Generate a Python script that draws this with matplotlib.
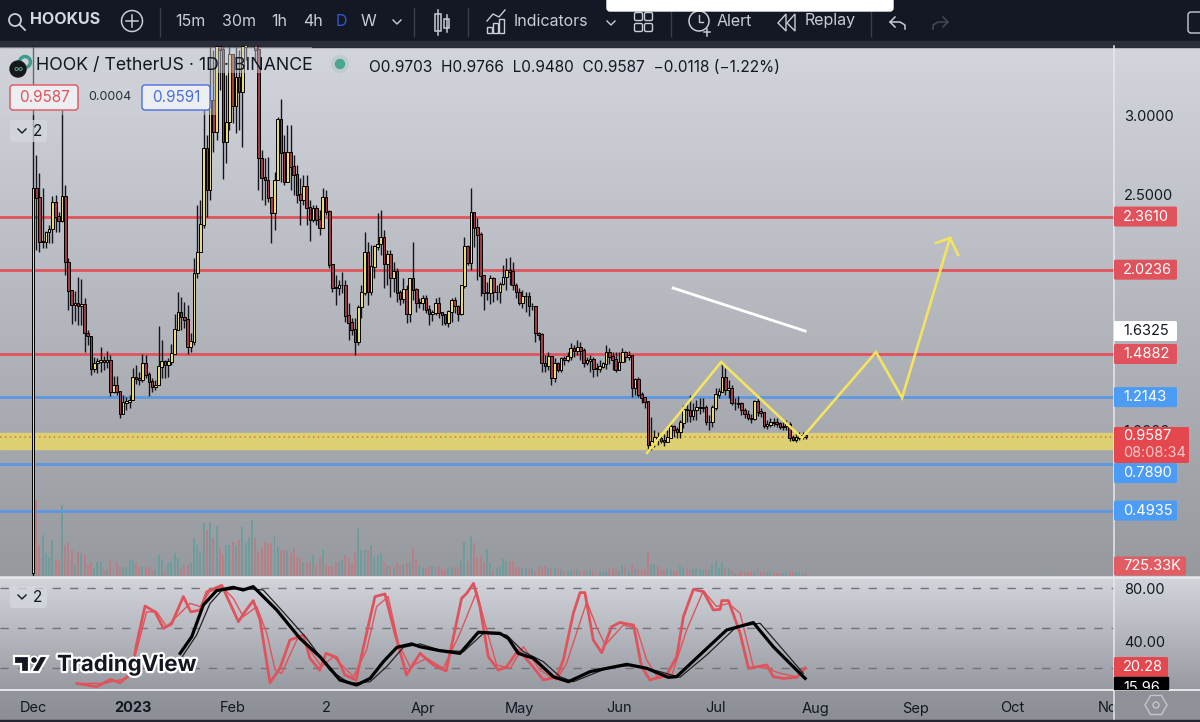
import numpy as np
import matplotlib
matplotlib.use('Agg')
import matplotlib.pyplot as plt
import matplotlib.patheffects as pe
from matplotlib.patches import Rectangle, Circle, Polygon, FancyBboxPatch, RegularPolygon

plt.rcParams['font.family'] = ['Inter', 'DejaVu Sans']

W, H = 1200, 722

# daily candles, price in USDT, first one is Dec 1
first_open = 0.10
closes = [
    2.54, 2.48, 2.20, 2.20, 2.26, 2.28, 2.45, 2.36, 2.33, 2.49,
    2.07, 1.89, 1.80, 1.81, 1.79, 1.80, 1.62, 1.60, 1.39, 1.43,
    1.44, 1.445, 1.44, 1.445, 1.25, 1.29, 1.25, 1.11, 1.18, 1.185,
    1.195, 1.335, 1.33, 1.325, 1.425, 1.355, 1.31, 1.28, 1.29, 1.405,
    1.44, 1.42, 1.44, 1.49, 1.64, 1.75, 1.72, 1.705, 1.53, 1.565,
    2.00, 2.135, 2.31, 2.795, 2.53, 3.10, 2.90, 3.44, 3.42, 2.835,
    2.96, 3.39, 3.06, 3.24, 3.15, 3.44, 3.55, 3.58, 3.58, 3.42,
    2.73, 2.605, 2.59, 2.48, 2.385, 2.59, 2.975, 2.765, 2.58, 2.77,
    2.675, 2.625, 2.50, 2.465, 2.55, 2.415, 2.34, 2.41, 2.34, 2.29,
    2.48, 2.39, 2.055, 1.91, 1.905, 1.925, 1.925, 1.73, 1.685, 1.64,
    1.565, 1.785, 1.875, 2.13, 1.88, 2.04, 2.17, 2.185, 2.23, 2.06,
    2.12, 1.97, 2.01, 1.875, 1.84, 1.895, 1.74, 1.965, 1.895, 1.81,
    1.815, 1.84, 1.77, 1.74, 1.75, 1.81, 1.75, 1.735, 1.685, 1.755,
    1.83, 1.79, 1.74, 1.92, 2.17, 2.065, 2.385, 2.29, 2.245, 1.985,
    1.875, 1.875, 1.965, 1.88, 1.88, 1.93, 1.975, 2.02, 2.01, 1.925,
    1.88, 1.81, 1.855, 1.855, 1.79, 1.79, 1.62, 1.61, 1.43, 1.41,
    1.47, 1.335, 1.425, 1.385, 1.46, 1.45, 1.47, 1.525, 1.505, 1.53,
    1.51, 1.43, 1.445, 1.455, 1.395, 1.39, 1.405, 1.425, 1.495, 1.47,
    1.45, 1.385, 1.435, 1.495, 1.47, 1.475, 1.27, 1.325, 1.23, 1.21,
    1.185, 0.91, 0.93, 0.96, 0.95, 0.935, 0.93, 0.955, 1.025, 1.005,
    0.995, 1.05, 1.135, 1.13, 1.095, 1.13, 1.145, 1.145, 1.145, 1.055,
    1.055, 1.145, 1.23, 1.25, 1.34, 1.26, 1.27, 1.175, 1.175, 1.17,
    1.13, 1.105, 1.08, 1.075, 1.185, 1.12, 1.115, 1.03, 1.04, 1.055,
    1.05, 1.045, 1.025, 1.03, 1.04, 0.955, 0.945, 0.955, 0.965, 0.9703,
    0.9587]
highs = [
    3.60, 2.75, 2.64, 2.54, 2.27, 2.31, 2.49, 2.50, 2.39, 3.04,
    2.56, 2.10, 1.88, 1.89, 1.98, 1.965, 1.845, 1.64, 1.60, 1.47,
    1.465, 1.53, 1.475, 1.51, 1.48, 1.35, 1.35, 1.24, 1.23, 1.215,
    1.23, 1.40, 1.42, 1.375, 1.49, 1.48, 1.375, 1.335, 1.32, 1.665,
    1.575, 1.45, 1.465, 1.55, 1.74, 1.88, 1.85, 1.82, 1.80, 1.62,
    2.10, 2.435, 2.465, 3.04, 2.88, 3.44, 3.42, 3.48, 3.51, 3.495,
    3.26, 3.51, 3.355, 3.51, 3.42, 3.55, 3.61, 3.64, 3.64, 3.64,
    3.45, 2.785, 2.73, 2.74, 2.48, 2.645, 2.99, 3.11, 2.88, 2.94,
    2.94, 2.75, 2.69, 2.605, 2.625, 2.625, 2.466, 2.435, 2.435, 2.40,
    2.54, 2.53, 2.40, 2.055, 1.99, 1.96, 2.01, 1.96, 1.81, 1.715,
    1.715, 1.80, 1.925, 2.26, 2.20, 2.18, 2.18, 2.385, 2.40, 2.275,
    2.15, 2.15, 2.07, 2.035, 1.895, 1.97, 1.925, 1.97, 2.20, 1.905,
    1.845, 1.865, 1.865, 1.80, 1.77, 1.845, 1.85, 1.755, 1.735, 1.77,
    1.845, 1.85, 1.80, 1.925, 2.23, 2.18, 2.54, 2.39, 2.35, 2.26,
    1.99, 1.945, 1.99, 1.975, 1.925, 1.945, 2.055, 2.10, 2.105, 2.07,
    1.94, 1.905, 1.895, 1.88, 1.88, 1.81, 1.79, 1.625, 1.62, 1.48,
    1.50, 1.475, 1.465, 1.44, 1.47, 1.475, 1.50, 1.56, 1.545, 1.575,
    1.565, 1.525, 1.47, 1.48, 1.47, 1.43, 1.45, 1.435, 1.545, 1.525,
    1.50, 1.50, 1.50, 1.525, 1.51, 1.51, 1.475, 1.335, 1.34, 1.25,
    1.195, 1.175, 1.09, 1.005, 0.995, 0.975, 0.98, 1.005, 1.055, 1.035,
    1.025, 1.07, 1.165, 1.185, 1.23, 1.175, 1.195, 1.21, 1.21, 1.165,
    1.10, 1.165, 1.27, 1.27, 1.43, 1.40, 1.32, 1.29, 1.21, 1.22,
    1.185, 1.145, 1.13, 1.11, 1.195, 1.21, 1.145, 1.12, 1.07, 1.08,
    1.08, 1.08, 1.055, 1.055, 1.07, 1.055, 0.975, 0.995, 0.995, 0.99,
    0.9766]
lows = [
    0.07, 2.15, 2.135, 2.16, 2.16, 2.19, 2.19, 2.26, 2.26, 2.325,
    1.99, 1.77, 1.68, 1.70, 1.67, 1.67, 1.50, 1.545, 1.355, 1.375,
    1.37, 1.375, 1.385, 1.40, 1.22, 1.24, 1.225, 1.08, 1.105, 1.13,
    1.145, 1.195, 1.30, 1.29, 1.31, 1.335, 1.22, 1.245, 1.26, 1.29,
    1.335, 1.335, 1.34, 1.42, 1.50, 1.64, 1.64, 1.655, 1.49, 1.50,
    1.545, 1.97, 2.135, 2.29, 2.36, 2.465, 2.77, 2.85, 3.165, 2.60,
    2.70, 2.91, 2.955, 2.89, 2.91, 2.80, 3.355, 3.51, 3.495, 3.355,
    2.53, 2.465, 2.435, 2.455, 2.19, 2.275, 2.605, 2.58, 2.56, 2.655,
    2.53, 2.50, 2.45, 2.31, 2.435, 2.31, 2.205, 2.325, 2.31, 2.245,
    2.29, 2.37, 2.035, 1.88, 1.80, 1.865, 1.875, 1.69, 1.575, 1.61,
    1.48, 1.545, 1.715, 1.865, 1.80, 1.865, 1.97, 2.15, 2.115, 1.905,
    1.925, 1.85, 1.88, 1.82, 1.80, 1.81, 1.685, 1.69, 1.83, 1.755,
    1.78, 1.77, 1.75, 1.67, 1.70, 1.735, 1.715, 1.67, 1.67, 1.66,
    1.69, 1.75, 1.70, 1.735, 1.905, 2.055, 2.02, 2.17, 1.96, 1.855,
    1.77, 1.83, 1.805, 1.82, 1.83, 1.81, 1.925, 1.895, 1.925, 1.895,
    1.845, 1.80, 1.78, 1.755, 1.73, 1.77, 1.565, 1.577, 1.375, 1.375,
    1.385, 1.29, 1.31, 1.375, 1.375, 1.42, 1.436, 1.45, 1.47, 1.48,
    1.45, 1.405, 1.42, 1.375, 1.34, 1.35, 1.375, 1.40, 1.395, 1.425,
    1.385, 1.375, 1.385, 1.436, 1.436, 1.45, 1.215, 1.23, 1.215, 1.175,
    1.145, 0.865, 0.88, 0.90, 0.91, 0.925, 0.905, 0.93, 0.96, 0.96,
    0.955, 0.955, 1.02, 1.055, 1.055, 1.07, 1.07, 1.11, 1.12, 1.035,
    1.005, 1.025, 1.135, 1.21, 1.25, 1.23, 1.21, 1.165, 1.13, 1.145,
    1.10, 1.08, 1.07, 1.05, 1.07, 1.095, 1.09, 1.02, 1.01, 1.025,
    1.03, 1.025, 1.01, 1.005, 1.005, 0.935, 0.935, 0.93, 0.94, 0.948,
    0.948]
# volume, millions
volumes = [
    2.0, 15.2, 6.2, 8.2, 4.6, 3.8, 7.2, 3.2, 3.0, 14.2,
    6.2, 6.8, 5.2, 2.2, 4.8, 4.6, 4.2, 2.2, 2.8, 1.6,
    2.8, 2.8, 1.2, 1.2, 3.2, 1.2, 2.8, 1.8, 1.8, 1.6,
    3.2, 3.2, 2.6, 1.8, 1.8, 1.6, 1.8, 1.4, 1.2, 4.2,
    3.2, 1.2, 2.6, 2.8, 4.6, 3.6, 1.6, 2.2, 2.2, 2.6,
    7.6, 6.2, 4.8, 10.6, 9.2, 10.8, 7.6, 10.0, 5.6, 4.2,
    6.2, 6.2, 6.8, 6.2, 7.2, 9.8, 6.6, 7.8, 11.2, 7.6,
    4.8, 5.6, 6.8, 6.6, 6.6, 8.0, 5.8, 5.2, 5.2, 5.0,
    4.6, 5.6, 3.8, 3.6, 2.8, 2.6, 2.6, 4.2, 2.2, 3.8,
    5.2, 2.2, 2.0, 2.0, 2.8, 2.8, 3.2, 4.2, 3.6, 2.6,
    4.8, 9.6, 5.2, 5.2, 5.2, 6.2, 3.8, 4.2, 4.6, 2.8,
    2.2, 2.0, 1.8, 2.6, 2.2, 2.4, 2.6, 2.8, 5.8, 3.2,
    2.0, 1.6, 1.6, 1.8, 2.0, 2.0, 2.0, 1.4, 1.2, 1.6,
    1.6, 1.8, 1.8, 3.2, 6.8, 3.0, 8.0, 6.6, 3.6, 4.0,
    2.8, 5.4, 2.6, 1.2, 1.6, 1.8, 3.4, 3.0, 3.0, 3.0,
    1.8, 1.8, 1.6, 1.6, 1.4, 1.6, 1.0, 2.0, 1.4, 2.0,
    1.6, 1.4, 1.6, 1.4, 1.2, 1.0, 1.0, 1.0, 1.2, 1.4,
    1.0, 1.0, 0.8, 1.2, 1.0, 0.8, 0.8, 0.8, 1.0, 1.4,
    1.6, 1.4, 1.0, 2.2, 1.8, 1.0, 2.4, 1.4, 1.4, 1.2,
    1.4, 4.8, 2.4, 2.2, 2.0, 1.2, 1.4, 1.6, 1.4, 1.0,
    1.2, 2.0, 1.6, 1.4, 1.2, 1.4, 1.6, 1.4, 1.2, 1.4,
    1.2, 2.4, 3.0, 1.6, 2.8, 1.6, 1.6, 1.0, 0.6, 0.6,
    1.0, 0.8, 0.8, 1.0, 0.6, 1.6, 0.8, 1.0, 0.8, 0.8,
    0.6, 0.6, 0.6, 0.6, 0.8, 1.2, 0.8, 0.6, 0.8, 0.4,
    0.72]

level_red = [2.3610, 2.0236, 1.4882]
level_blue = [1.2143, 0.7890, 0.4935]
zone_top, zone_bottom = 0.986, 0.885
last_price = 0.9587

# hand drawn lines on the chart
draw_days = [190.7, 213.7, 238.8, 261.8, 269.9, 284.8]
draw_prices = [0.86, 1.437, 0.955, 1.50, 1.21, 2.225]
arrow_days = [280.4, 284.8, 287.3]
arrow_prices = [2.193, 2.225, 2.117]
white_days = [198.8, 239.8]
white_prices = [1.907, 1.634]

# stoch rsi knots
rk_d = [13.6, 19.8, 24, 27, 30.6, 32.2, 34.8, 37.9, 40.5, 43, 46.7, 49, 51.9, 54, 58.6, 61.2, 63.8, 65.8, 68.4, 70.5,
        73.6, 76.7, 79.8, 84, 86, 89, 91, 94.3, 96.9, 100.3, 103.6, 106.2, 109.3, 112.4, 116, 120.2, 124.3, 128.3,
        130.6, 133.1, 134.7, 136.8, 138.8, 141.4, 144.5, 147.1, 150.7, 154.4, 158.5, 162.6, 164.7, 167.8, 169.9,
        171.4, 174, 176.6, 179.7, 182.3, 186.5, 189, 191.6, 196.8, 199.9, 202, 205.1, 208.2, 211.3, 213.4, 213.9,
        216, 219.6, 222.2, 227.9, 229.9, 233, 237.2, 239.8]
rk_v = [8, 5.5, 11, 8.6, 15.6, 38, 66.4, 62, 49.6, 52.8, 73.5, 62, 63.4, 77.2, 82, 68.4, 54.6, 62, 70.5, 55.9,
        8.6, 19.4, 40.8, 44.5, 27, 18, 30.7, 27.7, 14.4, 10.6, 45.8, 73.5, 75.5, 45.8, 14.4, 30.7, 22, 17.4,
        43.3, 72.2, 76, 83.5, 65.9, 28.2, 18, 20.6, 33.2, 23.2, 10.6, 13, 25.7, 60.9, 76.5,
        76.5, 40.8, 31.2, 50.8, 54, 52, 20.6, 10.6, 14.4, 28.2, 58.4, 79, 77.2, 63.4, 63.9, 70.5,
        70.5, 45.8, 19.4, 21.9, 13.1, 11.8, 12.6, 19.4]
rd_d = [15, 22, 29, 32.2, 35.3, 38.4, 41.5, 44.6, 48.8, 51.9, 54.9, 58.6, 62.2, 65.3, 69.5, 72.6, 75.2, 77.2, 82.4,
        86, 89.6, 93.3, 99.5, 103.6, 106.7, 110.3, 113.5, 117.1, 122.3, 127.4, 132.6, 137.8, 140.9, 144, 148.2,
        152.3, 157.5, 162.6, 165.7, 172, 175, 177.7, 183.3, 187.5, 190.6, 194.2, 198.4, 203, 208.2, 212.3, 216,
        219.6, 223.7, 227.9, 232, 237.2, 239.8]
rd_v = [8, 8, 11.8, 33, 62, 62, 50.8, 58.4, 68.4, 66, 77.2, 81, 72.2, 58.4, 65.9, 45.8, 18.1, 15.6, 43.3,
        33.2, 20.6, 28.2, 13.1, 33.2, 65.9, 73.5, 38.2, 20.6, 27, 19.4, 45.8, 77.2, 48.3, 21.9, 19.4,
        35.7, 18, 10.6, 23.2, 69.7, 50.8, 37, 52, 49.6, 25.7, 11.8, 14.4, 48.3, 78, 66, 68.4,
        60.9, 20.6, 19.4, 15.6, 13, 20.6]
bk_d = [45.7, 49.3, 52.9, 57, 62.2, 65.3, 68.4, 75.7, 82.9, 89.1, 95.3, 100.5, 104.7, 108.8, 113, 117.6, 120.2, 126.4,
        132.6, 138.3, 145, 147.6, 150.7, 155.4, 161.6, 166.3, 173, 184.4, 190.6, 197.3, 199.9, 208.2, 215.4, 223.7,
        229.9, 236.1, 239.8]
bk_v = [30.7, 43.3, 67.2, 78, 80.5, 78.5, 81, 63.4, 42, 28.2, 10.6, 6.8, 11.8, 24.4, 35.2, 37.8, 35.7, 32.7,
        30.7, 46.6, 45.8, 42, 30.7, 27, 13, 9.3, 16.9, 22.4, 19.4, 12.6, 13.1, 32, 48.3, 53.9,
        35.7, 20.6, 11.8]
bd_d = [46.2, 50.8, 55, 58.6, 64.3, 71.5, 77.7, 85, 92.2, 98.4, 104.7, 109.8, 115, 120.2, 126.4, 133.7, 139.9, 147.1,
        152.3, 158.5, 163.7, 167.8, 178.2, 186.5, 194.7, 200.9, 209.2, 218.5, 225.8, 233, 239.2]
bd_v = [27.7, 44.5, 68.4, 78, 79.8, 78.5, 62, 42, 18, 8, 9.3, 20.6, 35.2, 37.8, 33.2, 32, 45.8, 44.5,
        32, 24.4, 13, 9.3, 19.4, 21.9, 16.9, 12.6, 29.4, 50.8, 53.4, 33.2, 15.6]
osc_levels = [80, 50, 20]

month_days = [0, 31, 62, 91, 121, 151, 182, 212, 243, 274, 304, 335]
month_labels = ['Dec', '2023', 'Feb', '2', 'Apr', 'May', 'Jun', 'Jul', 'Aug', 'Sep', 'Oct', 'Nov']

RED = '#e0535c'
BLUE = '#5c97e2'
YELLOW = '#e9d977'
CANDLE_RED = '#a03b44'
INK = '#131722'
UI = '#c9ccd3'


def pane_rect(x0, y0, x1, y1):
    # pixel box, top-left origin, to figure fractions
    return [x0 / W, (H - y1) / H, (x1 - x0) / W, (y1 - y0) / H]


def gradient(ax, x0, y0, x1, y1, top, bottom):
    c0 = np.array(matplotlib.colors.to_rgb(top))
    c1 = np.array(matplotlib.colors.to_rgb(bottom))
    t = np.linspace(0, 1, 128)[:, None, None]
    img = c0[None, None, :] * (1 - t) + c1[None, None, :] * t
    ax.imshow(img, extent=[x0, x1, y1, y0], aspect='auto', interpolation='bilinear', zorder=0)


fig = plt.figure(figsize=(W / 100, H / 100), dpi=100, facecolor='#141824')

bg = fig.add_axes([0, 0, 1, 1], zorder=0)
gradient(bg, 0, 46, W, 577, '#d2d5dc', '#969a9f')
gradient(bg, 0, 577, W, 690, '#d2d5db', '#989aa1')
gradient(bg, 0, 690, W, 720, '#94969d', '#8c8e95')
bg.add_patch(Rectangle((0, 41), W, 6, color='#2a2e38', zorder=1))
bg.set_xlim(0, W)
bg.set_ylim(H, 0)
bg.axis('off')

days = np.arange(len(closes))
closes = np.array(closes)
opens = np.r_[first_open, closes[:-1]]
highs = np.maximum(np.array(highs), np.maximum(opens, closes))
lows = np.minimum(np.array(lows), np.minimum(opens, closes))
up = closes >= opens
x_lim = ((0 - 33) / 3.22, (1114 - 33) / 3.22)

# volume sits under the candles
ax_vol = fig.add_axes(pane_rect(0, 46, 1114, 576), zorder=1, facecolor='none')
ax_vol.bar(days, volumes, width=0.62, color=np.where(up, '#6f9c9c', '#b87f86'))
ax_vol.set_xlim(x_lim)
ax_vol.set_ylim(0, 106)
ax_vol.axis('off')

ax = fig.add_axes(pane_rect(0, 46, 1114, 576), zorder=2, facecolor='none')
ax.axhspan(zone_bottom, zone_top, color='#ddd073', zorder=1)
ax.axhline(last_price, color='#d9793f', lw=1.1, ls=(0, (1, 2.2)), zorder=1.5)
for level in level_red:
    ax.axhline(level, color=RED, lw=2.0, zorder=2)
for level in level_blue:
    ax.axhline(level, color=BLUE, lw=2.0, zorder=2)
ax.vlines(days, lows, highs, color='#14141a', lw=1.0, zorder=3)
ax.bar(days, np.abs(closes - opens) + 0.004, bottom=np.minimum(opens, closes), width=0.82,
       color=np.where(up, YELLOW, CANDLE_RED), edgecolor='black', lw=0.7, zorder=4)
ax.plot(draw_days, draw_prices, color='#f3e360', lw=1.9, zorder=5, solid_joinstyle='miter')
ax.plot(arrow_days, arrow_prices, color='#f3e360', lw=1.9, zorder=5, solid_joinstyle='miter')
ax.plot(white_days, white_prices, color='white', lw=2.0, zorder=5)
ax.set_xlim(x_lim)
ax.set_ylim(0.0784, 3.444)
ax.yaxis.tick_right()
ax.set_yticks([3.0, 2.5, 1.0], ['3.0000', '2.5000', '1.0000'])
ax.set_xticks([])
ax.tick_params(axis='y', length=0, pad=7, labelsize=10.5, labelcolor=INK)
for s in ax.spines.values():
    s.set_visible(False)

ax_osc = fig.add_axes(pane_rect(0, 577, 1114, 689), zorder=2, facecolor='none')
for level in osc_levels:
    ax_osc.axhline(level, color='#70737a', lw=1.0, ls=(0, (6, 6.5)), zorder=1)
ax_osc.plot(rd_d, rd_v, color=RED, lw=1.0, zorder=2)
ax_osc.plot(rk_d, rk_v, color=RED, lw=2.0, zorder=3, solid_joinstyle='round')
ax_osc.plot(bd_d, bd_v, color='#222226', lw=0.9, zorder=4)
ax_osc.plot(bk_d, bk_v, color='black', lw=2.3, zorder=5, solid_joinstyle='round')
ax_osc.set_xlim(x_lim)
ax_osc.set_ylim(3.8, 88.3)
ax_osc.yaxis.tick_right()
ax_osc.set_yticks([80, 40], ['80.00', '40.00'])
ax_osc.set_xticks(month_days, month_labels)
ax_osc.get_xticklabels()[1].set_fontweight('bold')
ax_osc.tick_params(axis='y', length=0, pad=7, labelsize=10.5, labelcolor=INK)
ax_osc.tick_params(axis='x', length=0, pad=9, labelsize=10.5, labelcolor=INK)
for s in ax_osc.spines.values():
    s.set_visible(False)

# everything on top in pixel coordinates
ov = fig.add_axes([0, 0, 1, 1], zorder=5, facecolor='none')
ov.set_xlim(0, W)
ov.set_ylim(H, 0)
ov.axis('off')

# white pane separators
ov.plot([0, W], [577, 577], color='#e6e8ec', lw=1.8)
ov.plot([0, W], [689.5, 689.5], color='#e6e8ec', lw=1.4)
ov.plot([1114, 1114], [46, 722], color='#e6e8ec', lw=1.1)
ov.add_patch(Rectangle((1115, 690), 85, 30, color='#8f9198', zorder=1))
ov.add_patch(Rectangle((0, 720), W, 2, color='#23262e', zorder=2))
ov.add_patch(RegularPolygon((1156, 705), 6, radius=11, orientation=np.pi / 2, fill=False, ec='#c4c6cc', lw=1.0))
ov.add_patch(Circle((1156, 705), 3, fill=False, ec='#c4c6cc', lw=1.0))

# toolbar
tb_y = 21
ov.add_patch(Circle((15, 20), 6, fill=False, ec=UI, lw=1.3))
ov.plot([19.5, 25], [24.5, 30], color=UI, lw=1.3)
ov.text(30, 20, 'HOOKUS', color='#d4d7de', fontsize=11.5, fontweight='bold', va='center')
ov.add_patch(Circle((132, 21), 10.5, fill=False, ec=UI, lw=1.1))
ov.plot([126, 138], [21, 21], color=UI, lw=1.1)
ov.plot([132, 132], [15, 27], color=UI, lw=1.1)
for xp in [160, 414, 468, 671, 871]:
    ov.plot([xp, xp], [8, 36], color='#3a3e49', lw=1.0)
for label, xp, col in [('15m', 175, UI), ('30m', 222, UI), ('1h', 271, UI), ('4h', 303, UI),
                       ('D', 336, '#3557c9'), ('W', 361, UI)]:
    ov.text(xp, tb_y, label, color=col, fontsize=11.5, va='center')
ov.plot([393, 397, 401], [20, 24, 20], color=UI, lw=1.0)
ov.plot([607, 611, 615], [21, 25, 21], color=UI, lw=1.0)
# candle icon
ov.add_patch(Rectangle((435, 14), 6, 17, fill=False, ec=UI, lw=1.1))
ov.plot([438, 438], [10, 35], color=UI, lw=1.1)
ov.add_patch(Rectangle((444, 19), 5, 9, fill=False, ec=UI, lw=1.1))
ov.plot([446.5, 446.5], [15, 32], color=UI, lw=1.1)
# indicators icon
for xb, hb in [(487, 6), (493, 10), (499, 14)]:
    ov.add_patch(Rectangle((xb, 33 - hb), 5, hb, fill=False, ec=UI, lw=1.0))
ov.plot([487, 493, 499, 505], [21, 14, 17, 10], color=UI, lw=1.0)
ov.text(514, tb_y, 'Indicators', color=UI, fontsize=11.5, va='center')
# layout icon
for xb in [635, 645]:
    for yb in [13, 24]:
        ov.add_patch(FancyBboxPatch((xb, yb), 7, 7, boxstyle='round,pad=0.5,rounding_size=1.5',
                                    fill=False, ec=UI, lw=1.0))
# alert icon
ov.add_patch(Circle((699, 21), 10, fill=False, ec=UI, lw=1.1))
ov.plot([699, 699, 703], [15, 22, 22], color=UI, lw=1.0)
ov.plot([704, 710], [32, 32], color=UI, lw=1.1)
ov.plot([707, 707], [29, 36], color=UI, lw=1.1)
ov.text(717, tb_y, 'Alert', color=UI, fontsize=11.5, va='center')
ov.add_patch(Polygon([[786, 14], [778, 23], [786, 31]], closed=True, fill=False, ec=UI, lw=1.0))
ov.add_patch(Polygon([[795, 14], [787, 23], [795, 31]], closed=True, fill=False, ec=UI, lw=1.0))
ov.text(805, tb_y, 'Replay', color=UI, fontsize=11.5, va='center')
ov.plot([895, 890, 895], [17, 22, 27], color=UI, lw=1.1)
ov.plot([890, 900, 905, 905], [22, 22, 25, 29], color=UI, lw=1.1)
ov.plot([943, 948, 943], [17, 22, 27], color='#454955', lw=1.1)
ov.plot([948, 938, 933, 933], [22, 22, 25, 29], color='#454955', lw=1.1)
ov.add_patch(FancyBboxPatch((607, -8), 286, 19, boxstyle='round,pad=0,rounding_size=3', color='white', zorder=6))
ov.add_patch(FancyBboxPatch((1188, 12), 30, 21, boxstyle='round,pad=0,rounding_size=3', fill=False, ec=UI, lw=1.0))

# legend area over the candles
ov.add_patch(Rectangle((0, 47), 312, 26, color='#cdd0d7', alpha=0.45, lw=0, zorder=1))
ov.add_patch(Rectangle((0, 73), 216, 42, color='#cdd0d7', alpha=0.45, lw=0, zorder=1))
ov.add_patch(Circle((25, 62), 6.5, color='#3f9d8f', zorder=2))
ov.add_patch(Circle((25, 62), 3, color='#cfd2d9', zorder=2))
ov.add_patch(Circle((18, 69), 8, color='#17181c', zorder=3))
ov.text(18, 69, '∞', color='#5fb89c', fontsize=7, ha='center', va='center', zorder=4)
ov.text(36, 65.5, 'HOOK / TetherUS · 1D · BINANCE', color=INK, fontsize=12.8, va='center', zorder=4)
ov.add_patch(Circle((340, 64), 9, color='#4ea593', alpha=0.15, lw=0))
ov.add_patch(Circle((340, 64), 4.5, color='#4aa690'))
ov.text(369, 67, 'O0.9703  H0.9766  L0.9480  C0.9587  −0.0118 (−1.22%)', color=INK, fontsize=11.1, va='center')


def outline_box(x0, x1, text, col):
    ov.add_patch(FancyBboxPatch((x0, 85), x1 - x0, 25, boxstyle='round,pad=0,rounding_size=3',
                                fc='#eceef1', ec=col, lw=1.0, zorder=3))
    ov.text((x0 + x1) / 2, 97.5, text, color=col, fontsize=11, ha='center', va='center', zorder=4)


outline_box(10, 78, '0.9587', RED)
outline_box(142, 210, '0.9591', '#4a6fdc')
ov.text(88, 97.5, '0.0004', color='#2a2e39', fontsize=9, va='center')

for yc in [131, 597]:
    ov.add_patch(FancyBboxPatch((10, yc - 11), 37, 22, boxstyle='round,pad=0,rounding_size=3',
                                fc='#d5d8de', ec='none', alpha=0.75))
    ov.plot([18, 22, 26], [yc - 2, yc + 2, yc - 2], color=INK, lw=1.0)
    ov.text(38, yc, '2', color=INK, fontsize=11, ha='center', va='center')


# price scale labels
def scale_box(y, text, fc, x1=1177, tc='white', h=20):
    ov.add_patch(FancyBboxPatch((1114, y - h / 2), x1 - 1114, h, boxstyle='round,pad=0,rounding_size=1.5',
                                fc=fc, ec='none', zorder=5))
    ov.text(1123, y, text, color=tc, fontsize=10.5, va='center', zorder=6)


# pushed down by the last price tag, like the platform does
label_nudge = {0.7890: 9}
for level in level_red + level_blue:
    y_lab = ax.transData.transform((0, level))[1]
    y_lab = H - y_lab + label_nudge.get(level, 0)
    scale_box(y_lab, '%.4f' % level, RED if level in level_red else '#4c9bf4')
scale_box(331, '1.6325', 'white', tc=INK)
ov.add_patch(FancyBboxPatch((1114, 427), 75, 36, boxstyle='round,pad=0,rounding_size=1.5', fc='#e4474e', ec='none', zorder=7))
ov.text(1123, 436, '0.9587', color='white', fontsize=10.5, va='center', zorder=8)
ov.text(1123, 453, '08:08:34', color='#f6c9cb', fontsize=10.5, va='center', zorder=8)
scale_box(566, '725.33K', '#e25c63', x1=1186, h=19)
scale_box(667, '20.28', '#e4474e', x1=1168)
ov.add_patch(Rectangle((1114, 677), 54, 12, color='black', zorder=5))
clip = Rectangle((1114, 677), 54, 12, transform=ov.transData)
t = ov.text(1123, 688, '15.96', color='white', fontsize=10.5, va='center', zorder=6)
t.set_clip_path(clip)
t.set_clip_on(True)

# TradingView mark
stroke = [pe.withStroke(linewidth=3.2, foreground='white')]
ov.text(57, 664.5, 'TradingView', color='#131722', fontsize=16, fontweight='bold', va='center',
        path_effects=stroke, zorder=8)
for pts in [[[14, 656], [29, 656], [29, 672], [21, 672], [21, 664], [14, 664]],
            [[40, 656], [48, 656], [39, 672], [31, 672]]]:
    ov.add_patch(Polygon(pts, closed=True, fc='#131722', ec='white', lw=1.6, zorder=8))
ov.add_patch(Circle((34, 660), 3.6, fc='#131722', ec='white', lw=1.2, zorder=8))

fig.savefig('out.png', dpi=100, facecolor=fig.get_facecolor())
